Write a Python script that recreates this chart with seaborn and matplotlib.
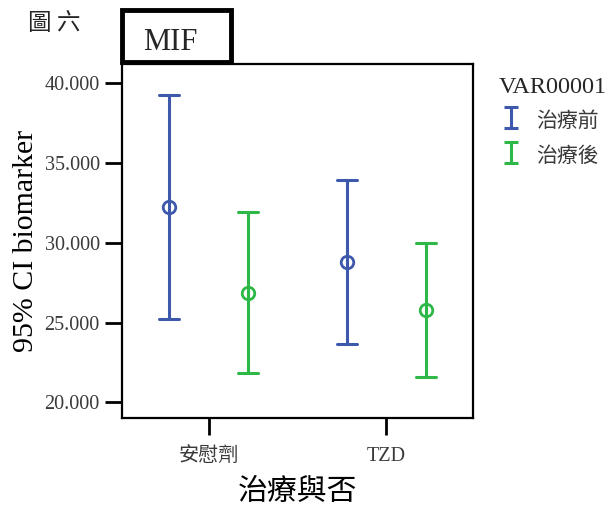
import numpy as np
import pandas as pd
import matplotlib
matplotlib.use("Agg")
import matplotlib.pyplot as plt
from matplotlib.patches import Rectangle
import seaborn as sns

# Group means with 95% confidence limits
groups = ["安慰劑", "TZD"]
phases = ["治療前", "治療後"]
means = {"治療前": [32.23, 28.78], "治療後": [26.87, 25.79]}
lower = {"治療前": [25.20, 23.64], "治療後": [21.82, 21.60]}
upper = {"治療前": [39.27, 33.92], "治療後": [31.91, 29.97]}
yticks = [20, 25, 30, 35, 40]

colors = {"治療前": "#3E58AC", "治療後": "#2EB848"}

# Each cell holds (lower, mean, upper); median gives the mean, min/max give the CI
rows = []
for ph in phases:
    for i, g in enumerate(groups):
        for v in (lower[ph][i], means[ph][i], upper[ph][i]):
            rows.append({"治療與否": g, "VAR00001": ph, "value": v})
df = pd.DataFrame(rows)

sns.set_theme(style="white")
plt.rcParams["font.family"] = ["Liberation Serif", "Noto Sans CJK TC"]

fig = plt.figure(figsize=(6.09, 5.05), dpi=100)
ax = fig.add_axes([122 / 609, 1 - 418 / 505, (473 - 122) / 609, (418 - 64) / 505])

sns.pointplot(
    data=df, x="治療與否", y="value", hue="VAR00001",
    order=groups, hue_order=phases, palette=colors,
    estimator=np.median, errorbar=lambda v: (v.min(), v.max()),
    dodge=0.446, linestyle="none", markers="o", capsize=0.113,
    err_kws={"linewidth": 2.2}, markersize=9, markeredgewidth=2,
    markerfacecolor="none", legend=False, ax=ax,
)

ax.set_xlim(-0.49, 1.49)
ax.set_ylim(19.02, 41.21)
ax.set_yticks(yticks)
ax.set_yticklabels([f"{t:.3f}" for t in yticks])

for s in ax.spines.values():
    s.set_visible(True)
    s.set_color("black")
    s.set_linewidth(1.6)

ax.tick_params(axis="both", which="both", direction="out", width=2,
               color="black", labelsize=14.5, labelcolor="#3a3a3a")
ax.tick_params(axis="y", length=12, pad=4, left=True)
ax.tick_params(axis="x", length=12, pad=9, bottom=True)

ax.set_xlabel("治療與否", fontsize=21.5, color="black", labelpad=9)
ax.set_ylabel("95% CI biomarker", fontsize=21.5, color="black")
ax.yaxis.set_label_coords(-0.236, 0.5)

# Legend with error-bar glyphs
handles = []
for ph in phases:
    h = ax.errorbar([np.nan], [np.nan], yerr=[[1.0], [1.0]], fmt="none",
                    ecolor=colors[ph], elinewidth=2.2, capsize=5, capthick=2.2)
    handles.append(h)
leg = fig.legend(handles, phases, title="VAR00001", loc="upper left",
                 bbox_to_anchor=(488 / 609, 1 - 67 / 505), frameon=False,
                 fontsize=15, title_fontsize=17.5, handlelength=1.2,
                 handleheight=1.5, handletextpad=0.6, labelspacing=0.45,
                 borderpad=0)
leg._legend_box.align = "left"
for t in leg.get_texts():
    t.set_color("#3a3a3a")

# Chart title box
fig.patches.append(Rectangle((122 / 609, 1 - 62 / 505), 109 / 609, 52 / 505,
                             transform=fig.transFigure, fill=False,
                             edgecolor="black", linewidth=3.5))
fig.text(170 / 609, 1 - 42 / 505, "MIF", fontsize=22, ha="center", va="center")
fig.text(54 / 609, 1 - 23 / 505, "圖 六", fontsize=17, ha="center", va="center",
         family=["Noto Sans CJK TC"], fontweight="medium")

fig.savefig("out.png", dpi=100)
